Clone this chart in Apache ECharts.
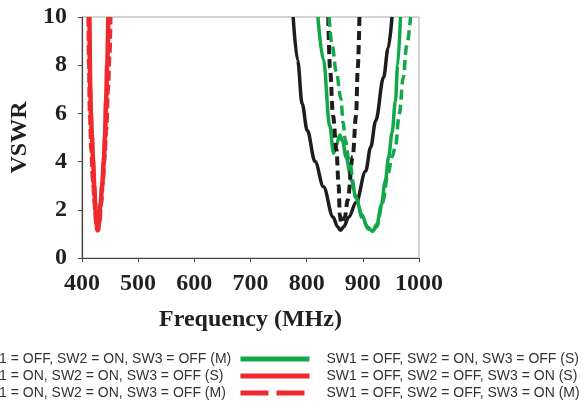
<!DOCTYPE html>
<html>
<head>
<meta charset="utf-8">
<script src="https://cdn.jsdelivr.net/npm/echarts@6/dist/echarts.min.js"></script>
<style>html,body{margin:0;padding:0;background:#fff;}#c{width:587px;height:403px;}</style>
</head>
<body>
<div id="c"></div>
<script>
// ---- data (frequency in MHz, VSWR) ----
var xTicks = [400, 500, 600, 700, 800, 900, 1000];
var yTicks = [0, 2, 4, 6, 8, 10];

var greenSFreq = [820, 830, 841, 848, 853, 859, 864, 870, 880, 888, 898, 908, 917, 925, 933, 940, 946, 952, 958, 962, 967];
var greenSVswr = [10, 8.2, 5.5, 4.35, 4.7, 5.1, 4.85, 4.2, 3.2, 2.5, 1.8, 1.3, 1.1, 1.4, 2.2, 3.2, 4.2, 5.2, 6.5, 8, 10];

var greenMFreq = [840, 845, 853, 861, 865, 869, 875, 888, 900, 910, 917, 925, 935, 945, 952, 958, 965, 972, 978, 985];
var greenMVswr = [10, 8.9, 7.7, 6.6, 5.6, 4.9, 4.1, 2.5, 1.6, 1.2, 1.1, 1.3, 2.3, 3.5, 4.2, 4.6, 6.0, 7.5, 8.8, 10];

var blackSFreq = [776, 784, 792, 801, 815, 830, 847, 855, 860, 866, 875, 888, 905, 914, 923, 937, 945, 952];
var blackSVswr = [10, 8.2, 6.4, 5.3, 4.0, 2.96, 1.7, 1.3, 1.15, 1.3, 1.7, 2.3, 3.6, 4.6, 5.7, 7.5, 8.7, 10];

var blackMFreq = [838.5, 841.5, 847, 853, 857, 859, 861.5, 864, 868, 873, 882, 888, 891, 894];
var blackMVswr = [10, 7.9, 5.9, 4.5, 3.0, 1.8, 1.45, 1.5, 1.7, 2.4, 4.2, 5.9, 7.9, 10];

var redSFreq = [413.5, 415, 416, 418, 420, 422, 424, 426, 427.5, 430, 433, 436, 439, 441, 443, 445, 447];
var redSVswr = [10, 7, 6, 5, 4, 3, 2, 1.4, 1.15, 1.4, 2.2, 3, 4, 5, 6.5, 8, 10];

var redMFreq = [412, 413, 414.5, 417, 420, 423, 426, 428.5, 431, 434, 437, 440, 443, 446, 449, 450.5];
var redMVswr = [10, 8, 6, 4.5, 3.2, 2.3, 1.5, 1.15, 1.5, 2.3, 3.2, 4.2, 5.3, 7, 8.5, 10];

var names = {
  gS: 'SW1 = OFF, SW2 = ON, SW3 = OFF (S)',
  gM: 'SW1 = OFF, SW2 = ON, SW3 = OFF (M)',
  kS: 'SW1 = ON, SW2 = ON, SW3 = OFF (S)',
  kM: 'SW1 = ON, SW2 = ON, SW3 = OFF (M)',
  rS: 'SW1 = OFF, SW2 = OFF, SW3 = ON (S)',
  rM: 'SW1 = OFF, SW2 = OFF, SW3 = ON (M)'
};

var GREEN = '#12a84a', RED = '#ee2a2f', BLACK = '#1f1c1d';

function pairs(xs, ys) { return xs.map(function (x, i) { return [x, ys[i]]; }); }

function mk(name, xs, ys, color, width, dash) {
  return {
    name: name, type: 'line', data: pairs(xs, ys),
    symbol: 'none', smooth: 0.35, smoothMonotone: 'x',
    lineStyle: { color: color, width: width, type: dash || 'solid', cap: 'butt' },
    itemStyle: { color: color },
    animation: false, z: 3
  };
}

var chart = echarts.init(document.getElementById('c'), null, { renderer: 'canvas' });

var serif = "'Liberation Serif', 'Times New Roman', serif";
var labelColor = '#231f20';

function legendItem(name, color, dashed) {
  return {
    name: name,
    itemStyle: { opacity: 0, color: color },
    lineStyle: { color: color, width: 5, opacity: 1, type: dashed ? [28, 8] : 'solid', cap: 'butt' }
  };
}

var legendCommon = {
  type: 'plain', orient: 'vertical', top: 352, height: 60, padding: 0,
  itemWidth: 69, itemHeight: 14, itemGap: 3,
  selectedMode: false,
  textStyle: { fontFamily: "'Liberation Sans', Arial, sans-serif", fontSize: 14, color: '#333', padding: [0, 0, 0, 12] }
};

chart.setOption({
  animation: false,
  grid: { left: 76, right: 168, top: 17, bottom: 145, show: true, borderColor: '#a8a8a8', borderWidth: 1, backgroundColor: 'transparent' },
  legend: [
    Object.assign({}, legendCommon, {
      left: -112,
      data: [legendItem(names.gM, GREEN, true), legendItem(names.kS, BLACK, false), legendItem(names.kM, BLACK, true)]
    }),
    Object.assign({}, legendCommon, {
      left: 238,
      data: [legendItem(names.gS, GREEN, false), legendItem(names.rS, RED, false), legendItem(names.rM, RED, true)]
    })
  ],
  xAxis: {
    type: 'value', min: xTicks[0], max: xTicks[xTicks.length - 1], interval: 100,
    name: 'Frequency (MHz)', nameLocation: 'middle', nameGap: 50,
    nameTextStyle: { fontFamily: serif, fontWeight: 'bold', fontSize: 24, color: labelColor },
    axisLine: { show: true, lineStyle: { color: '#444', width: 1.2 } },
    axisTick: { show: true, inside: false, length: 4, lineStyle: { color: '#444' } },
    axisLabel: { fontFamily: serif, fontWeight: 'bold', fontSize: 24, color: labelColor, margin: 14,
      formatter: function (v) { return String(v); } },
    splitLine: { show: false }
  },
  yAxis: {
    type: 'value', min: yTicks[0], max: yTicks[yTicks.length - 1], interval: 2,
    name: 'VSWR', nameLocation: 'middle', nameGap: 37, nameRotate: 90,
    nameTextStyle: { fontFamily: serif, fontWeight: 'bold', fontSize: 24, color: labelColor },
    axisLine: { show: true, lineStyle: { color: '#444', width: 1.2 } },
    axisTick: { show: true, inside: false, length: 4, lineStyle: { color: '#444' } },
    axisLabel: { fontFamily: serif, fontWeight: 'bold', fontSize: 24, color: labelColor, margin: 15 },
    splitLine: { show: false }
  },
  series: [
    mk(names.kS, blackSFreq, blackSVswr, BLACK, 3.5),
    mk(names.gS, greenSFreq, greenSVswr, GREEN, 3.5),
    mk(names.kM, blackMFreq, blackMVswr, BLACK, 4, [9, 5]),
    mk(names.gM, greenMFreq, greenMVswr, GREEN, 3.5, [10, 5]),
    mk(names.rS, redSFreq, redSVswr, RED, 4.5),
    mk(names.rM, redMFreq, redMVswr, RED, 4.5, [10, 4])
  ]
});
</script>
</body>
</html>
